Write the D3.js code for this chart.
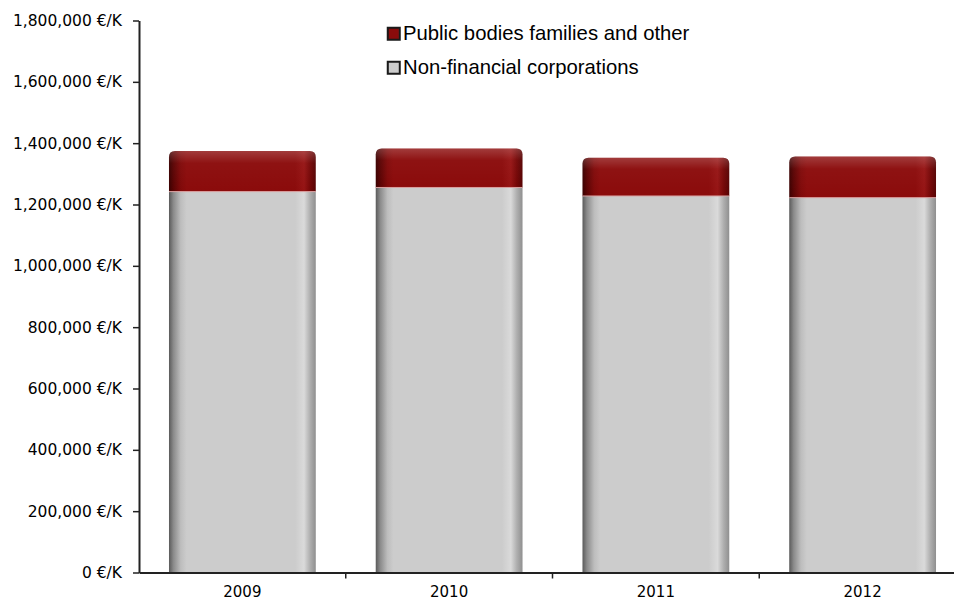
<!DOCTYPE html>
<html>
<head>
<meta charset="utf-8">
<script src="https://cdn.jsdelivr.net/npm/d3@7"></script>
<style>
  body { margin: 0; background: #fff; }
  svg { display: block; }
</style>
</head>
<body>
<div id="chart"></div>
<script>
var years = ["2009", "2010", "2011", "2012"];
var nonFinancial = [1242000, 1255500, 1227800, 1222300];
var publicBodies = [132500, 127000, 125000, 134000];
var yTicks = [0, 200000, 400000, 600000, 800000, 1000000, 1200000, 1400000, 1600000, 1800000];
var seriesNames = ["Public bodies families and other", "Non-financial corporations"];

var W = 954, H = 603;
var plotLeft = 139, plotRight = 966, plotTop = 20.5, plotBottom = 572.5;

var svg = d3.select("#chart").append("svg").attr("width", W).attr("height", H);
var defs = svg.append("defs");

// horizontal "cylinder" shading for each colour
function shade(id, stops) {
    var g = defs.append("linearGradient").attr("id", id)
        .attr("x1", "0").attr("x2", "1").attr("y1", "0").attr("y2", "0");
    stops.forEach(function(s) {
        g.append("stop").attr("offset", s[0]).attr("stop-color", s[1]);
    });
}
shade("greyShade", [[0, "#5a5a5a"], [0.03, "#8a8a8a"], [0.08, "#bdbdbd"], [0.12, "#cccccc"],
    [0.86, "#cccccc"], [0.92, "#dadada"], [0.96, "#b0b0b0"], [1, "#8f8f8f"]]);
shade("redShade", [[0, "#3a0000"], [0.03, "#5a0303"], [0.08, "#800909"], [0.12, "#8b0b0b"],
    [0.86, "#8b0b0b"], [0.92, "#961414"], [0.96, "#760707"], [1, "#560303"]]);
var tg = defs.append("linearGradient").attr("id", "topGlow")
    .attr("x1", "0").attr("x2", "0").attr("y1", "0").attr("y2", "1");
tg.append("stop").attr("offset", 0).attr("stop-color", "#ffffff").attr("stop-opacity", 0.2);
tg.append("stop").attr("offset", 0.3).attr("stop-color", "#ffffff").attr("stop-opacity", 0.03);
tg.append("stop").attr("offset", 1).attr("stop-color", "#ffffff").attr("stop-opacity", 0);

var x = d3.scaleBand().domain(years).range([plotLeft, plotRight]).paddingInner(0.29).paddingOuter(0.145);
var y = d3.scaleLinear().domain([0, 1800000]).range([plotBottom, plotTop]);

var rows = years.map(function(yr, i) {
    return { year: yr, nonfin: nonFinancial[i], pub: publicBodies[i] };
});
var stack = d3.stack().keys(["nonfin", "pub"]);
var layers = stack(rows);

function roundTop(x0, y0, w, h, r) {
    return "M" + x0 + "," + (y0 + h) +
        "V" + (y0 + r) +
        "Q" + x0 + "," + y0 + " " + (x0 + r) + "," + y0 +
        "H" + (x0 + w - r) +
        "Q" + (x0 + w) + "," + y0 + " " + (x0 + w) + "," + (y0 + r) +
        "V" + (y0 + h) + "Z";
}

var bars = svg.append("g");
// non-financial (bottom)
bars.selectAll(".nf").data(layers[0]).enter().append("rect")
    .attr("class", "nf")
    .attr("x", function(d) { return x(d.data.year); })
    .attr("y", function(d) { return y(d[1]); })
    .attr("width", x.bandwidth())
    .attr("height", function(d) { return y(d[0]) - y(d[1]); })
    .attr("fill", "url(#greyShade)");

// public bodies (top, rounded)
bars.selectAll(".pb").data(layers[1]).enter().append("path")
    .attr("class", "pb")
    .attr("d", function(d) {
        return roundTop(x(d.data.year), y(d[1]), x.bandwidth(), y(d[0]) - y(d[1]), 6);
    })
    .attr("fill", "url(#redShade)");
bars.selectAll(".pbg").data(layers[1]).enter().append("path")
    .attr("class", "pbg")
    .attr("d", function(d) {
        return roundTop(x(d.data.year), y(d[1]), x.bandwidth(), y(d[0]) - y(d[1]), 6);
    })
    .attr("fill", "url(#topGlow)");

// thin light seam between segments
bars.selectAll(".seam").data(layers[1]).enter().append("line")
    .attr("x1", function(d) { return x(d.data.year); })
    .attr("x2", function(d) { return x(d.data.year) + x.bandwidth(); })
    .attr("y1", function(d) { return y(d[0]); })
    .attr("y2", function(d) { return y(d[0]); })
    .style("stroke", "#d9a0a0").style("stroke-width", 1);

// y axis
var yAxis = svg.append("g").attr("transform", "translate(" + plotLeft + ",0)")
    .call(d3.axisLeft(y).tickValues(yTicks).tickSize(6).tickSizeOuter(0)
        .tickFormat(function(d) { return d3.format(",")(d) + " €/K"; }));
yAxis.select(".domain").style("stroke", "#222").style("stroke-width", 2);
yAxis.selectAll(".tick line").style("stroke", "#222").style("stroke-width", 1.5);
yAxis.selectAll(".tick text").attr("x", -17)
    .style("font-family", "DejaVu Sans, sans-serif").style("font-size", "15.5px").style("fill", "#000");

// x axis
var xAxis = svg.append("g").attr("transform", "translate(0," + plotBottom + ")")
    .call(d3.axisBottom(x).tickSize(0).tickSizeOuter(0).tickPadding(14));
xAxis.select(".domain").style("stroke", "#222").style("stroke-width", 2);
xAxis.selectAll(".tick text")
    .style("font-family", "DejaVu Sans, sans-serif").style("font-size", "15px").style("fill", "#000");
var bounds = years.map(function(d, i) { return plotLeft + i * x.step(); }).slice(1);
xAxis.selectAll(".bound").data(bounds).enter().append("line")
    .attr("x1", function(d) { return d; }).attr("x2", function(d) { return d; })
    .attr("y1", 0).attr("y2", 6)
    .style("stroke", "#222").style("stroke-width", 1.5);

// legend
var legend = svg.append("g").attr("transform", "translate(387,27)");
var fills = ["url(#redShade)", "url(#greyShade)"];
seriesNames.forEach(function(name, i) {
    var g = legend.append("g").attr("transform", "translate(0," + (i * 34) + ")");
    g.append("rect").attr("x", 0.75).attr("y", 0.75).attr("width", 12).attr("height", 12)
        .attr("fill", fills[i]).style("stroke", "#1a1a1a").style("stroke-width", 2);
    g.append("text").attr("x", 16).attr("y", 13)
        .text(name)
        .style("font-family", "Liberation Sans, Arial, sans-serif").style("font-size", "20.3px").style("fill", "#000");
});
</script>
</body>
</html>
